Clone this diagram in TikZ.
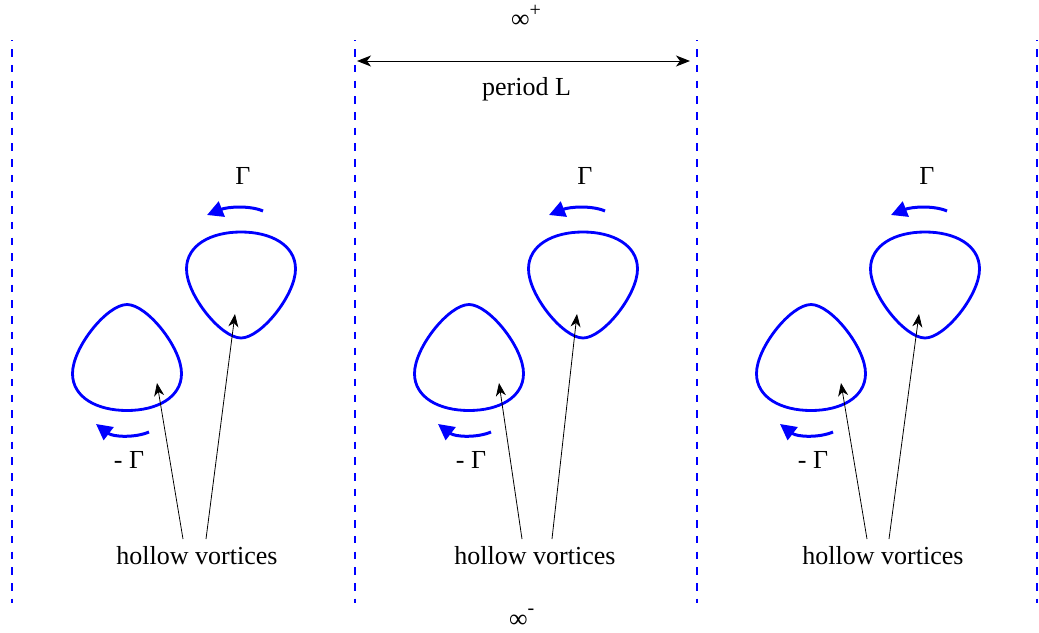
\documentclass[tikz,border=0pt]{standalone}
\usepackage{fontspec}
\setmainfont{Liberation Serif}
\usetikzlibrary{arrows.meta}
\definecolor{vblue}{RGB}{0,0,255}
\tikzset{
  lbl/.style={font=\fontsize{26}{30}\selectfont, inner sep=0pt},
  periodline/.style={vblue, line width=2.3pt, dash pattern=on 7.5pt off 8.2pt, dash phase=6.5pt},
  vortex/.style={vblue, line width=2.8pt},
  circ/.style={vblue, line width=3pt, -{Triangle[length=16pt,width=16pt]}},
  pointer/.style={black, line width=0.8pt, -{Stealth[length=13pt,width=10pt,inset=4pt]}},
  dimline/.style={black, line width=1pt, {Stealth[length=14pt,width=11pt,inset=4pt]}-{Stealth[length=14pt,width=11pt,inset=4pt]}},
  vortexshape/.pic={\draw[vortex] (0,-53) .. controls (30,-53) and (54.5,-40) .. (54.5,-16)
      .. controls (54.5,10) and (20,53) .. (0,53)
      .. controls (-20,53) and (-54.5,10) .. (-54.5,-16)
      .. controls (-54.5,-40) and (-30,-53) .. cycle;}
}
\begin{document}
\begin{tikzpicture}[x=1pt,y=-1pt]
\useasboundingbox (0,0) rectangle (1039,632);
% periodic boundaries
\foreach \k/\xx in {a/12,b/355,c/697,d/1037}{
  \coordinate (top\k) at (\xx,40);
  \coordinate (bot\k) at (\xx,603);
  \draw[periodline] (top\k) -- (bot\k);
}
% infinity labels
\node[lbl, anchor=base west] (inftop) at (511,27.5) {∞\raisebox{11pt}{\fontsize{20}{20}\selectfont +}};
\node[lbl, anchor=base west] (infbot) at (509,627) {∞\raisebox{13pt}{\fontsize{20}{20}\selectfont -}};
% period
\coordinate (pl) at (357,61);
\coordinate (pr) at (690,61);
\draw[dimline] (pl) -- (pr);
\node[lbl, anchor=base] (period) at (526.5,95) {period L};
% panels
\foreach \n/\u/\l/\t/\sa/\sb in {1/241/127/197/183/206, 2/583/469/535/522/552, 3/925/811/883/867/889}{
  \pic at (\u,285) {vortexshape};
  \pic[yscale=-1] at (\l,357.5) {vortexshape};
  \draw[circ] (\u+22,211) .. controls (\u+8,205) and (\u-14,207) .. (\u-34,215);
  \draw[circ] (\l+22,432) .. controls (\l+8,438) and (\l-14,437) .. (\l-31,424);
  \node[lbl] (gp\n) at (\u+2,176) {Γ};
  \node[lbl] (gm\n) at (\l+2,460) {- Γ};
  \node[lbl, anchor=base] (hv\n) at (\t,564) {hollow vortices};
  \coordinate (sa\n) at (\sa,539);
  \coordinate (sb\n) at (\sb,539);
  \coordinate (ta\n) at (\l+30,383);
  \coordinate (tb\n) at (\u-6,314);
  \draw[pointer] (sa\n) -- (ta\n);
  \draw[pointer] (sb\n) -- (tb\n);
}
\end{tikzpicture}
\end{document}
